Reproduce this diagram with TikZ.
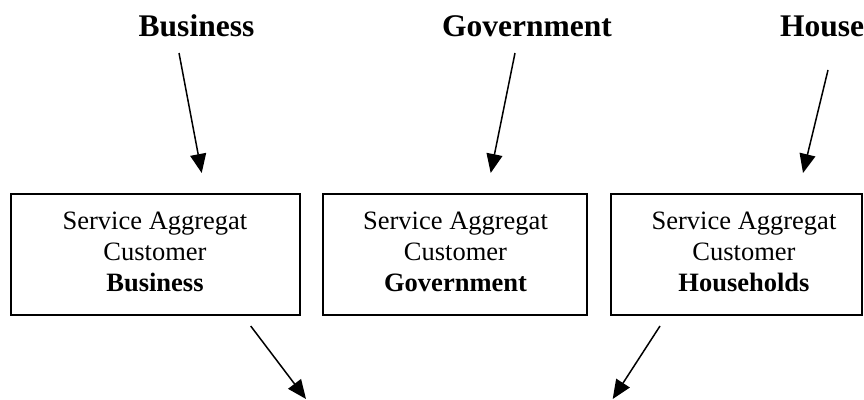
\documentclass[tikz,border=0pt]{standalone}
\usepackage{fontspec}
\setmainfont{Liberation Serif}
\usetikzlibrary{arrows.meta}

\tikzset{
  sector/.style={font=\bfseries\fontsize{31.5}{36}\selectfont, anchor=base, inner sep=0pt},
  aggbox/.style={draw, line width=2pt, minimum height=121pt, inner sep=0pt},
  aggtext/.style={align=center, inner sep=0pt, font=\fontsize{26.5}{31}\selectfont},
  flow/.style={line width=1.5pt, -{Triangle[length=19pt,width=16pt]}}
}

\begin{document}
\begin{tikzpicture}[x=1pt, y=-1pt]
  \clip (0,0) rectangle (864,399);

  % sector labels
  \node[sector] (bus) at (196.5,36) {Business};
  \node[sector] (gov) at (527,36) {Government};
  \node[sector] (hh)  at (858,36) {Households};

  % aggregator boxes
  \node[aggbox, minimum width=289pt] (boxbus) at (155.5,254.5) {};
  \node[aggbox, minimum width=264pt] (boxgov) at (455,254.5) {};
  \node[aggbox, minimum width=251pt] (boxhh)  at (736.5,254.5) {};

  \node[aggtext] (txtbus) at (155,252) {Service Aggregat\\Customer\\\textbf{Business}};
  \node[aggtext] (txtgov) at (455.5,252) {Service Aggregat\\Customer\\\textbf{Government}};
  \node[aggtext] (txthh)  at (744,252) {Service Aggregat\\Customer\\\textbf{Households}};

  % arrow end points
  \coordinate (busA) at (179,53);    \coordinate (busB) at (201.7,173);
  \coordinate (govA) at (515,53);    \coordinate (govB) at (490.7,173);
  \coordinate (hhA)  at (828,70);    \coordinate (hhB)  at (803,173);
  \coordinate (outA) at (250.7,326); \coordinate (outB) at (306,399);
  \coordinate (inA)  at (660,326);   \coordinate (inB)  at (612.7,399);

  \draw[flow] (busA) -- (busB);
  \draw[flow] (govA) -- (govB);
  \draw[flow] (hhA) -- (hhB);
  \draw[flow] (outA) -- (outB);
  \draw[flow] (inA) -- (inB);
\end{tikzpicture}
\end{document}
